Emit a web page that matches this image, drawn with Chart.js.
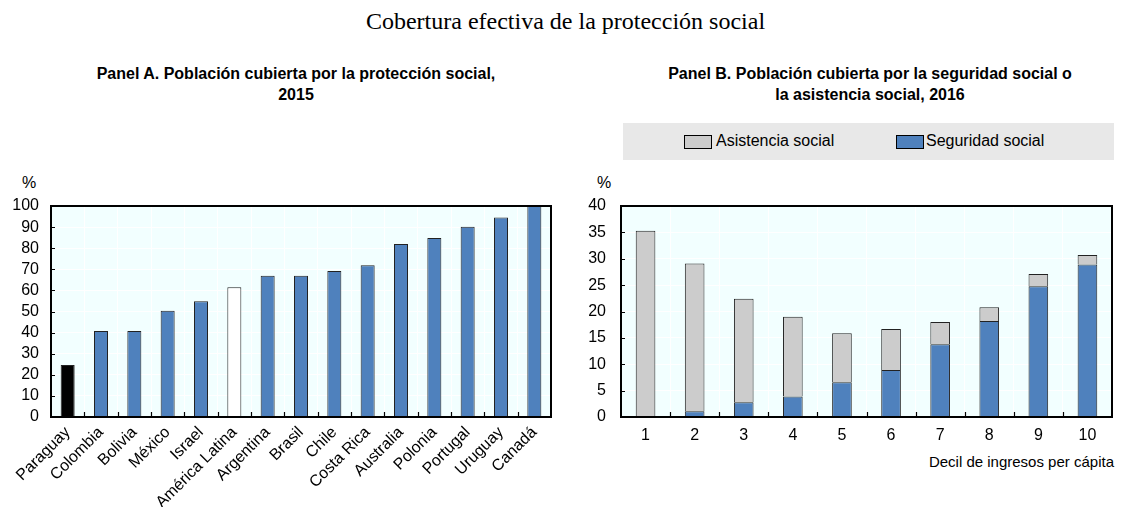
<!DOCTYPE html>
<html>
<head>
<meta charset="utf-8">
<script src="https://cdn.jsdelivr.net/npm/chart.js@4.4.1/dist/chart.umd.min.js"></script>
<style>
  body { margin: 0; background: #fff; }
  #wrap { position: relative; width: 1121px; height: 507px; font-family: "Liberation Sans", Arial, sans-serif; }
  .abs { position: absolute; }
  #title { left: 0; width: 1131px; top: 8px; text-align: center; font-family: "Liberation Serif", "Times New Roman", serif; font-size: 24px; color: #000; }
  .ptitle { top: 63px; text-align: center; font-weight: bold; font-size: 16px; line-height: 21px; color: #000; }
  .pct { top: 174px; font-size: 16px; }
  #legend { left: 623px; top: 123px; width: 491px; height: 37px; background: #e8e8e8; font-size: 16px; }
  .lbox { position: absolute; top: 12px; width: 28px; height: 14px; border: 1px solid #000; box-sizing: border-box; }
  .ltxt { position: absolute; top: 9px; }
  #xtitle { right: 7px; top: 453px; font-size: 15px; }
</style>
</head>
<body>
<div id="wrap">
  <div id="title" class="abs">Cobertura efectiva de la protección social</div>
  <div class="abs ptitle" style="left:50px;width:492px;">Panel A. Población cubierta por la protección social,<br>2015</div>
  <div class="abs ptitle" style="left:620px;width:500px;">Panel B. Población cubierta por la seguridad social o<br>la asistencia social, 2016</div>
  <div class="abs pct" style="left:22px;">%</div>
  <div class="abs pct" style="left:597px;">%</div>
  <div id="legend" class="abs">
    <div class="lbox" style="left:61px;background:#cccccc;"></div>
    <div class="ltxt" style="left:93px;">Asistencia social</div>
    <div class="lbox" style="left:273px;background:#4f81bd;"></div>
    <div class="ltxt" style="left:303px;">Seguridad social</div>
  </div>
  <div id="xtitle" class="abs">Decil de ingresos per cápita</div>
  <div class="abs" style="left:0;top:0;width:565px;height:507px;"><canvas id="chartA"></canvas></div>
  <div class="abs" style="left:565px;top:0;width:556px;height:507px;"><canvas id="chartB"></canvas></div>
</div>
<script>
// Panel A data
var countries = ["Paraguay", "Colombia", "Bolivia", "México", "Israel", "América Latina", "Argentina",
  "Brasil", "Chile", "Costa Rica", "Australia", "Polonia", "Portugal", "Uruguay", "Canadá"];
var coverage = [24.7, 40.8, 40.8, 50.3, 54.8, 61.5, 67, 67, 69.2, 71.9, 82, 84.8, 90.2, 94.5, 100];
var coverageColors = ["#000000", "#4f81bd", "#4f81bd", "#4f81bd", "#4f81bd", "#ffffff", "#4f81bd",
  "#4f81bd", "#4f81bd", "#4f81bd", "#4f81bd", "#4f81bd", "#4f81bd", "#4f81bd", "#4f81bd"];

// Panel B data
var deciles = ["1", "2", "3", "4", "5", "6", "7", "8", "9", "10"];
var seguridad = [0, 1.1, 2.8, 3.9, 6.6, 8.9, 13.8, 18.2, 24.8, 28.9];
var asistencia = [35.3, 28.0, 19.6, 15.1, 9.3, 7.8, 4.2, 2.6, 2.3, 1.8];

var fontFam = "'Liberation Sans', Arial, sans-serif";

// background, inner ticks and frame of the plot area
var framePlugin = {
  id: 'frame',
  beforeDraw: function(chart) {
    var a = chart.chartArea, ctx = chart.ctx;
    ctx.save();
    ctx.fillStyle = "#f2ffff";
    ctx.fillRect(a.left, a.top, a.right - a.left, a.bottom - a.top);
    ctx.restore();
  },
  afterDatasetsDraw: function(chart) {
    var a = chart.chartArea, ctx = chart.ctx;
    var xs = chart.scales.x, ys = chart.scales.y;
    ctx.save();
    ctx.strokeStyle = "#000";
    ctx.lineWidth = 1.2;
    ctx.beginPath();
    var n = chart.data.labels.length;
    for (var i = 1; i < n; i++) {
      var px = Math.round((xs.getPixelForValue(i - 1) + xs.getPixelForValue(i)) / 2) + 0.5;
      ctx.moveTo(px, a.bottom);
      ctx.lineTo(px, a.bottom - 5);
    }
    ys.ticks.forEach(function(t) {
      var py = Math.round(ys.getPixelForValue(t.value)) + 0.5;
      ctx.moveTo(a.left, py);
      ctx.lineTo(a.left + 4, py);
    });
    ctx.stroke();
    ctx.lineWidth = 2;
    ctx.strokeRect(a.left, a.top, a.right - a.left, a.bottom - a.top);
    ctx.restore();
  }
};

function fixY(w) {
  return function(s) { s.width = w; s.paddingTop = 0; s.paddingBottom = 0; };
}
function fixX(s) { s.height = 90; s.paddingLeft = 0; s.paddingRight = 0; }

new Chart(document.getElementById("chartA"), {
  type: "bar",
  data: {
    labels: countries,
    datasets: [{
      data: coverage,
      backgroundColor: coverageColors,
      borderColor: "#222",
      borderWidth: 1,
      barPercentage: 0.42,
      categoryPercentage: 1
    }]
  },
  options: {
    responsive: true,
    maintainAspectRatio: false,
    animation: false,
    layout: { padding: { top: 206, right: 14, left: 0, bottom: 0 } },
    plugins: { legend: { display: false }, tooltip: { enabled: false } },
    scales: {
      x: {
        afterFit: fixX,
        grid: { color: "#ffffff", lineWidth: 1, drawTicks: false, offset: true },
        border: { display: false },
        ticks: { color: "#000", font: { size: 16, family: fontFam }, minRotation: 45, maxRotation: 45, padding: 6, autoSkip: false }
      },
      y: {
        min: 0, max: 100,
        afterFit: fixY(51),
        grid: { color: "#ffffff", lineWidth: 1, drawTicks: false },
        border: { display: false },
        ticks: { stepSize: 10, autoSkip: false, color: "#000", font: { size: 16, family: fontFam }, padding: 12 }
      }
    }
  },
  plugins: [framePlugin]
});

new Chart(document.getElementById("chartB"), {
  type: "bar",
  data: {
    labels: deciles,
    datasets: [{
      label: "Seguridad social",
      data: seguridad,
      backgroundColor: "#4f81bd",
      borderColor: "#222",
      borderWidth: 1,
      barPercentage: 0.4,
      categoryPercentage: 1
    }, {
      label: "Asistencia social",
      data: asistencia,
      backgroundColor: "#cccccc",
      borderColor: "#222",
      borderWidth: 1,
      barPercentage: 0.4,
      categoryPercentage: 1
    }]
  },
  options: {
    responsive: true,
    maintainAspectRatio: false,
    animation: false,
    layout: { padding: { top: 206, right: 9, left: 0, bottom: 0 } },
    plugins: { legend: { display: false }, tooltip: { enabled: false } },
    scales: {
      x: {
        stacked: true,
        afterFit: fixX,
        grid: { color: "#ffffff", lineWidth: 1, drawTicks: false, offset: true },
        border: { display: false },
        ticks: { color: "#000", font: { size: 16, family: fontFam }, maxRotation: 0, padding: 9 }
      },
      y: {
        stacked: true,
        min: 0, max: 40,
        afterFit: fixY(56),
        grid: { color: "#ffffff", lineWidth: 1, drawTicks: false },
        border: { display: false },
        ticks: { stepSize: 5, autoSkip: false, color: "#000", font: { size: 16, family: fontFam }, padding: 15 }
      }
    }
  },
  plugins: [framePlugin]
});
</script>
</body>
</html>
